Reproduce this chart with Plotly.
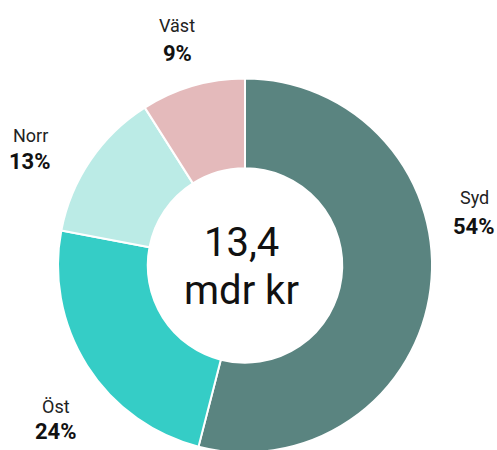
import plotly.graph_objects as go

regions = ["Syd", "Öst", "Norr", "Väst"]
shares = [54, 24, 13, 9]
colors = ["#5a8480", "#35cdc6", "#bbebe6", "#e4babb"]
center_lines = ["13,4", "mdr kr"]

W, H = 497, 460  # the window shows the top 450 px; the ring is cut at the bottom edge
FONT = "Roboto"

# label anchor positions in pixels (x centre, name middle, percent middle)
label_pos = {
    "Syd": (474, 197, 226),
    "Öst": (56, 406, 431),
    "Norr": (30, 135, 162),
    "Väst": (177, 25, 53),
}

def px(x):
    return x / W

def py(y):
    return 1 - y / H

fig = go.Figure(go.Pie(
    labels=regions,
    values=shares,
    sort=False,
    direction="clockwise",
    rotation=0,
    hole=0.52,
    marker=dict(colors=colors, line=dict(color="white", width=2)),
    textinfo="none",
    hoverinfo="label+percent",
    showlegend=False,
    domain=dict(x=[px(58), px(432)], y=[py(453), py(78)]),
))

for name, val in zip(regions, shares):
    x, yn, yp = label_pos[name]
    fig.add_annotation(text=name, x=px(x), y=py(yn), xref="paper", yref="paper",
                       showarrow=False, xanchor="center", yanchor="middle",
                       font=dict(family=FONT, size=18, color="#222222"))
    fig.add_annotation(text=f"<b>{val}%</b>", x=px(x), y=py(yp), xref="paper", yref="paper",
                       showarrow=False, xanchor="center", yanchor="middle",
                       font=dict(family=FONT, size=22, color="#111111"))

fig.add_annotation(text=center_lines[0], x=px(241), y=py(243), xref="paper", yref="paper",
                   showarrow=False, xanchor="center", yanchor="middle",
                   font=dict(family=FONT, size=40, color="#111111"))
fig.add_annotation(text=center_lines[1], x=px(241), y=py(290), xref="paper", yref="paper",
                   showarrow=False, xanchor="center", yanchor="middle",
                   font=dict(family=FONT, size=40, color="#111111"))

fig.update_layout(
    width=W, height=H,
    margin=dict(l=0, r=0, t=0, b=0),
    paper_bgcolor="white", plot_bgcolor="white",
    font=dict(family=FONT),
)

fig.write_html("out.html",
               config={"displayModeBar": False},
               post_script="document.body.style.margin='0';document.body.style.padding='0';document.body.style.overflow='hidden';")
